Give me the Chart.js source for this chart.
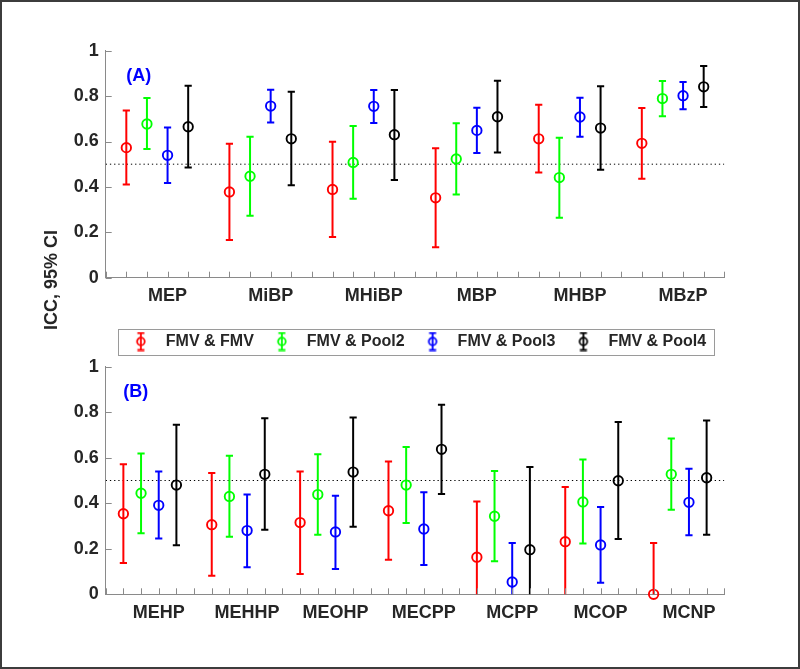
<!DOCTYPE html>
<html>
<head>
<meta charset="utf-8">
<script src="https://cdn.jsdelivr.net/npm/chart.js@4.4.0/dist/chart.umd.min.js"></script>
<style>
  html, body { margin: 0; padding: 0; background: #fff; }
  #wrap { position: relative; width: 800px; height: 669px; overflow: hidden; }
  #wrap canvas { position: absolute; left: 0; }
  #frame { position: absolute; left: 0; top: 0; width: 800px; height: 669px;
           box-sizing: border-box; border: 2px solid #3c3c3c; pointer-events: none; }
</style>
</head>
<body>
<div id="wrap">
  <canvas id="chartA" width="800" height="362" style="top:0"></canvas>
  <canvas id="chartB" width="800" height="329" style="top:340px"></canvas>
  <div id="frame"></div>
</div>
<script>
// categories
const catsA = ['MEP', 'MiBP', 'MHiBP', 'MBP', 'MHBP', 'MBzP'];
const catsB = ['MEHP', 'MEHHP', 'MEOHP', 'MECPP', 'MCPP', 'MCOP', 'MCNP'];
const seriesNames = ['FMV & FMV', 'FMV & Pool2', 'FMV & Pool3', 'FMV & Pool4'];
const seriesColors = ['#ff0000', '#00ff00', '#0000ff', '#000000'];
const yTicks = [0, 0.2, 0.4, 0.6, 0.8, 1];

// panel A: ICC and 95% CI per series
const iccA_fmv   = [0.573, 0.378, 0.389, 0.352, 0.612, 0.592];
const lowA_fmv   = [0.411, 0.166, 0.179, 0.134, 0.463, 0.436];
const upA_fmv    = [0.737, 0.590, 0.599, 0.570, 0.762, 0.748];
const iccA_pool2 = [0.677, 0.447, 0.508, 0.523, 0.441, 0.789];
const lowA_pool2 = [0.567, 0.273, 0.348, 0.366, 0.264, 0.711];
const upA_pool2  = [0.792, 0.621, 0.668, 0.680, 0.617, 0.867];
const iccA_pool3 = [0.539, 0.756, 0.755, 0.649, 0.708, 0.802];
const lowA_pool3 = [0.417, 0.684, 0.681, 0.549, 0.621, 0.742];
const upA_pool3  = [0.662, 0.828, 0.827, 0.749, 0.793, 0.862];
const iccA_pool4 = [0.665, 0.612, 0.630, 0.709, 0.659, 0.841];
const lowA_pool4 = [0.485, 0.407, 0.430, 0.551, 0.476, 0.752];
const upA_pool4  = [0.846, 0.819, 0.827, 0.868, 0.843, 0.933];

// panel B: ICC and 95% CI per series (lower bounds below 0 are cut by the axis)
const iccB_fmv   = [0.354, 0.306, 0.315, 0.367, 0.163, 0.231, 0.000];
const lowB_fmv   = [0.138, 0.081, 0.089, 0.152, -0.08, -0.01, -0.22];
const upB_fmv    = [0.571, 0.533, 0.539, 0.583, 0.408, 0.471, 0.225];
const iccB_pool2 = [0.444, 0.430, 0.438, 0.480, 0.343, 0.406, 0.527];
const lowB_pool2 = [0.268, 0.253, 0.262, 0.313, 0.145, 0.223, 0.372];
const upB_pool2  = [0.619, 0.609, 0.615, 0.647, 0.542, 0.592, 0.684];
const iccB_pool3 = [0.391, 0.280, 0.274, 0.287, 0.054, 0.217, 0.404];
const lowB_pool3 = [0.245, 0.119, 0.111, 0.129, -0.12, 0.051, 0.259];
const upB_pool3  = [0.540, 0.439, 0.433, 0.448, 0.225, 0.384, 0.552];
const iccB_pool4 = [0.480, 0.527, 0.537, 0.637, 0.196, 0.499, 0.512];
const lowB_pool4 = [0.215, 0.284, 0.297, 0.441, -0.17, 0.243, 0.262];
const upB_pool4  = [0.745, 0.773, 0.777, 0.833, 0.559, 0.757, 0.764];

const FONT = '"Liberation Sans", Arial, sans-serif';
const TEXT = '#262626';
const AXIS = '#8a8a8a';
Chart.defaults.font.family = FONT;

// legend icon: small errorbar with a circle
function legendIcon(color) {
    const c = document.createElement('canvas');
    c.width = 12; c.height = 20;
    const g = c.getContext('2d');
    g.strokeStyle = color;
    g.lineWidth = 1.8;
    g.beginPath();
    g.moveTo(6, 1.5); g.lineTo(6, 18.5);
    g.moveTo(2.5, 1.5); g.lineTo(9.5, 1.5);
    g.moveTo(2.5, 18.5); g.lineTo(9.5, 18.5);
    g.stroke();
    g.beginPath();
    g.arc(6, 10, 3.8, 0, Math.PI * 2);
    g.stroke();
    return c;
}

function makeDatasets(cats, icc, low, up) {
    return seriesNames.map((name, s) => ({
        label: name,
        data: cats.map((c, i) => ({ x: i * 5 + s + 1, y: icc[s][i], lo: low[s][i], hi: up[s][i] })),
        borderColor: seriesColors[s],
        backgroundColor: 'rgba(0,0,0,0)',
        pointStyle: 'circle',
        pointRadius: 4.7,
        pointBorderWidth: 1.9,
        clip: false
    }));
}

const errorBars = {
    id: 'errorBars',
    beforeDatasetsDraw(chart) {
        const { ctx, chartArea: a, scales: { x, y } } = chart;
        ctx.save();
        ctx.beginPath();
        ctx.rect(a.left, a.top, a.right - a.left, a.bottom - a.top);
        ctx.clip();
        // reference line at 0.5
        ctx.strokeStyle = '#000';
        ctx.lineWidth = 1;
        ctx.setLineDash([1.3, 2.9]);
        ctx.beginPath();
        ctx.moveTo(a.left, y.getPixelForValue(0.5));
        ctx.lineTo(a.right, y.getPixelForValue(0.5));
        ctx.stroke();
        ctx.setLineDash([]);
        ctx.lineWidth = 2;
        chart.data.datasets.forEach(ds => {
            ctx.strokeStyle = ds.borderColor;
            ds.data.forEach(d => {
                const px = x.getPixelForValue(d.x);
                const y1 = y.getPixelForValue(d.lo);
                const y2 = y.getPixelForValue(d.hi);
                ctx.beginPath();
                ctx.moveTo(px, y1); ctx.lineTo(px, y2);
                ctx.moveTo(px - 3.6, y1); ctx.lineTo(px + 3.6, y1);
                ctx.moveTo(px - 3.6, y2); ctx.lineTo(px + 3.6, y2);
                ctx.stroke();
            });
        });
        ctx.restore();
    },
    afterDraw(chart) {
        const { ctx, chartArea: a, scales: { x, y } } = chart;
        const o = chart.options.plugins.errorBars;
        ctx.save();
        // inward tick marks
        ctx.strokeStyle = AXIS;
        ctx.lineWidth = 1;
        ctx.beginPath();
        x.ticks.forEach(t => {
            const px = Math.round(x.getPixelForValue(t.value)) + 0.5;
            ctx.moveTo(px, a.bottom); ctx.lineTo(px, a.bottom - 6);
        });
        y.ticks.forEach(t => {
            const py = Math.round(y.getPixelForValue(t.value)) + 0.5;
            ctx.moveTo(a.left, py); ctx.lineTo(a.left + 6, py);
        });
        ctx.stroke();
        // panel tag
        ctx.fillStyle = '#0000ff';
        ctx.font = 'bold 18px ' + FONT;
        ctx.textAlign = 'center';
        ctx.textBaseline = 'middle';
        ctx.fillText(o.tag, x.getPixelForValue(o.tagX), y.getPixelForValue(0.89));
        if (o.yTitle) {
            ctx.fillStyle = TEXT;
            ctx.translate(52, 280);
            ctx.rotate(-Math.PI / 2);
            ctx.fillText(o.yTitle, 0, 0);
            ctx.setTransform(1, 0, 0, 1, 0, 0);
        }
        // legend frame
        const lg = chart.legend;
        if (lg && lg.options.display && lg.legendHitBoxes.length) {
            const hb = lg.legendHitBoxes;
            const l = Math.min(...hb.map(h => h.left)) - 6;
            const r = Math.max(...hb.map(h => h.left + h.width)) + 8;
            const t = hb[0].top - 5;
            const b = hb[0].top + hb[0].height + 5;
            ctx.strokeStyle = '#9a9a9a';
            ctx.strokeRect(Math.round(l) + 0.5, Math.round(t) + 0.5, Math.round(r - l), Math.round(b - t));
        }
        ctx.restore();
    }
};

function makeChart(id, cats, icc, low, up, opts) {
    const nSlots = cats.length * 5;
    return new Chart(document.getElementById(id), {
        type: 'scatter',
        data: { datasets: makeDatasets(cats, icc, low, up) },
        plugins: [errorBars],
        options: {
            responsive: false,
            animation: false,
            events: [],
            layout: { padding: opts.padding },
            scales: {
                x: {
                    type: 'linear', min: 0, max: nSlots,
                    afterFit: s => { s.height = opts.xHeight; },
                    grid: { display: true, drawOnChartArea: false, drawTicks: false },
                    border: { display: true, color: AXIS, width: 1 },
                    ticks: {
                        stepSize: 1, autoSkip: false, maxRotation: 0, minRotation: 0, padding: 8,
                        color: TEXT, font: { size: 18, weight: 'bold' },
                        callback: v => {
                            const k = Math.round(v);
                            return k % 5 === 3 ? cats[(k - 3) / 5] : '';
                        }
                    }
                },
                y: {
                    min: 0, max: 1,
                    afterFit: s => { s.width = 50; },
                    afterBuildTicks: s => { s.ticks = yTicks.map(v => ({ value: v })); },
                    grid: { display: true, drawOnChartArea: false, drawTicks: false },
                    border: { display: true, color: AXIS, width: 1 },
                    ticks: {
                        padding: 7, color: TEXT, font: { size: 18, weight: 'bold' },
                        callback: v => String(Math.round(v * 10) / 10)
                    }
                }
            },
            plugins: {
                tooltip: { enabled: false },
                errorBars: { tag: opts.tag, tagX: opts.tagX, yTitle: opts.yTitle },
                legend: opts.legend ? {
                    display: true, position: 'bottom', fullSize: false,
                    labels: {
                        usePointStyle: true, pointStyleWidth: 34, padding: 11,
                        color: TEXT, font: { size: 16, weight: 'bold' },
                        generateLabels: ch => ch.data.datasets.map((ds, i) => ({
                            text: ds.label, datasetIndex: i, fontColor: TEXT,
                            pointStyle: legendIcon(ds.borderColor), lineWidth: 0,
                            strokeStyle: ds.borderColor, fillStyle: ds.borderColor
                        }))
                    }
                } : { display: false }
            }
        }
    });
}

makeChart('chartA', catsA,
    [iccA_fmv, iccA_pool2, iccA_pool3, iccA_pool4],
    [lowA_fmv, lowA_pool2, lowA_pool3, lowA_pool4],
    [upA_fmv, upA_pool2, upA_pool3, upA_pool4],
    { padding: { left: 55.7, right: 75.7, top: 50.7, bottom: 2.5 }, xHeight: 44.8,
      tag: '(A)', tagX: 1.6, yTitle: 'ICC, 95% CI', legend: true });

makeChart('chartB', catsB,
    [iccB_fmv, iccB_pool2, iccB_pool3, iccB_pool4],
    [lowB_fmv, lowB_pool2, lowB_pool3, lowB_pool4],
    [upB_fmv, upB_pool2, upB_pool3, upB_pool4],
    { padding: { left: 55.7, right: 75.7, top: 26.7, bottom: 34.7 }, xHeight: 40,
      tag: '(B)', tagX: 1.7, yTitle: null, legend: false });
</script>
</body>
</html>
